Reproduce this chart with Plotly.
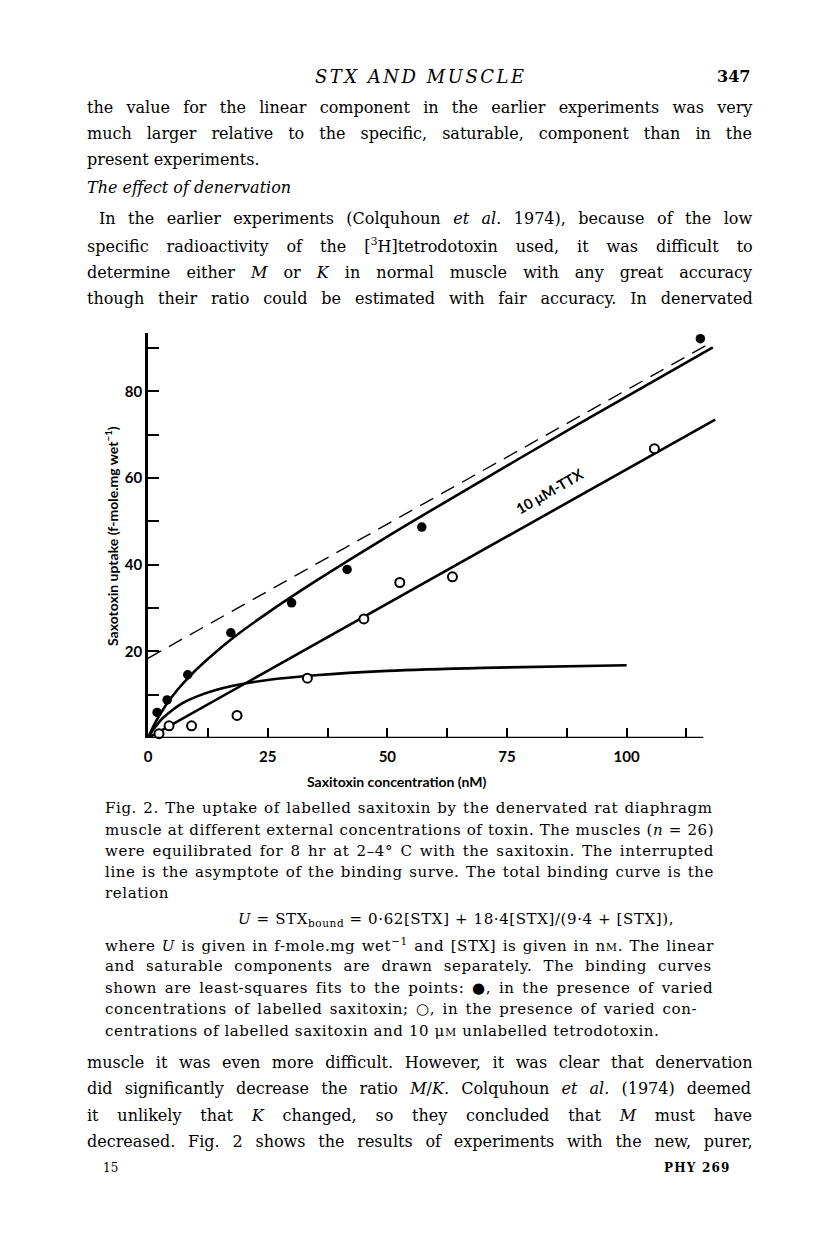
import plotly.graph_objects as go

# filled circles: labelled saxitoxin alone
filled_x = [1.9, 4.0, 8.3, 17.3, 30.0, 41.6, 57.2, 115.4]
filled_y = [5.9, 8.8, 14.6, 24.3, 31.2, 38.9, 48.7, 92.2]

# open circles: with 10 uM unlabelled TTX
open_x = [2.3, 4.4, 9.1, 18.6, 33.3, 45.1, 52.6, 63.6, 105.8]
open_y = [1.0, 2.8, 2.8, 5.2, 13.8, 27.5, 35.9, 37.2, 66.8]

# fitted curves
total_x = [0, 1, 2, 3, 4, 6, 8, 10, 14, 18, 25, 35, 50, 70, 90, 118]
total_y = [0, 2.4, 4.5, 6.3, 8.0, 10.9, 13.4, 15.7, 19.7, 23.3, 28.9, 36.2, 46.5, 59.6, 72.5, 90.2]

sat_x = [0, 1, 2, 3, 4, 6, 8, 10, 14, 18, 25, 35, 50, 70, 100]
sat_y = [0, 1.8, 3.2, 4.5, 5.5, 7.2, 8.5, 9.5, 11.0, 12.1, 13.4, 14.5, 15.5, 16.2, 16.8]

linear_x = [0, 118.5]
linear_y = [0, 73.5]

asym_x = [0, 117.5]
asym_y = [18.4, 91.2]

x_ticks = [0, 25, 50, 75, 100]
x_minor = [12.5, 37.5, 62.5, 87.5, 112.5]
y_ticks = [20, 40, 60, 80]
y_minor = [10, 30, 50, 70, 90]

# plot area in page pixels (the html body adds an 8px margin)
L, T, W, H = 148, 333, 572, 405
BODY = 8
FIG_W, FIG_H = 816, 1238


def px(x, y):
    return (x - L) / W, (T + H - y) / H


SERIF = "DejaVu Serif"
SANS = "Lato"

fig = go.Figure()

line_style = dict(color="black", width=2.6)
fig.add_trace(go.Scatter(x=asym_x, y=asym_y, mode="lines",
                         line=dict(color="black", width=1.4, dash="15px,9px")))
fig.add_trace(go.Scatter(x=linear_x, y=linear_y, mode="lines", line=line_style))
fig.add_trace(go.Scatter(x=sat_x, y=sat_y, mode="lines", line=line_style, line_shape="spline"))
fig.add_trace(go.Scatter(x=total_x, y=total_y, mode="lines", line=line_style, line_shape="spline"))
fig.add_trace(go.Scatter(x=open_x, y=open_y, mode="markers", cliponaxis=False,
                         marker=dict(symbol="circle", size=9, color="white",
                                     line=dict(color="black", width=2))))
fig.add_trace(go.Scatter(x=filled_x, y=filled_y, mode="markers", cliponaxis=False,
                         marker=dict(symbol="circle", size=9.5, color="black",
                                     line=dict(color="black", width=0))))

fig.update_layout(
    width=FIG_W, height=FIG_H,
    margin=dict(l=L - BODY, r=FIG_W - L - W + BODY, t=T - BODY, b=FIG_H - T - H + BODY, pad=0),
    paper_bgcolor="white", plot_bgcolor="white",
    showlegend=False,
    xaxis=dict(range=[0, 119.5], showline=False, showgrid=False, zeroline=False,
               tickvals=x_ticks, ticks="inside", ticklen=10, tickwidth=2, tickcolor="black",
               minor=dict(tickvals=x_minor, ticks="inside", ticklen=10, tickwidth=2, tickcolor="black"),
               tickfont=dict(family=SANS, size=15, color="black", weight="bold"),
               ticklabelstandoff=8),
    yaxis=dict(range=[0, 93.5], showline=True, linecolor="black", linewidth=2.5,
               showgrid=False, zeroline=False,
               tickvals=y_ticks, ticks="inside", ticklen=11, tickwidth=2, tickcolor="black",
               minor=dict(tickvals=y_minor, ticks="inside", ticklen=11, tickwidth=2, tickcolor="black"),
               tickfont=dict(family=SANS, size=15, color="black", weight="bold")),
)

# x axis line stops short of the curves, as in the print
fig.add_shape(type="line", xref="x", yref="y", x0=0, x1=116, y0=0, y1=0,
              line=dict(color="black", width=2.5))

annotations = []


def add_text(x, y, text, size, family=SERIF, xanchor="left", angle=0, weight="normal",
             spacing=None, letters=None):
    ax, ay = px(x, y)
    style = []
    if spacing:
        style.append("word-spacing:%.1fpx" % spacing)
    if letters:
        style.append("letter-spacing:%.1fpx" % letters)
    if style:
        text = "<span style='%s'>%s</span>" % (";".join(style), text)
    annotations.append(dict(x=ax, y=ay, xref="paper", yref="paper", text=text,
                            showarrow=False, xanchor=xanchor, yanchor="middle",
                            textangle=angle,
                            font=dict(family=family, size=size, color="black", weight=weight)))


# chart labels
add_text(397, 781, "Saxitoxin concentration (nM)", 14, SANS, "center", weight="bold")
add_text(111, 536, "Saxotoxin uptake (f-mole.mg wet<sup>−1</sup>)", 14, SANS, "center", -90, weight="bold")
add_text(549, 491, "10 μM-TTX", 14.5, SANS, "center", -30, weight="bold")

# running head
add_text(421, 77, "<i>STX AND MUSCLE</i>", 18, xanchor="center", letters=2.5)
add_text(752, 77, "347", 16, xanchor="right", weight="bold")

# (x, y, text, extra word spacing to justify the line)
body_top = [
    (85, 107, "the value for the linear component in the earlier experiments was very", 8.2),
    (85, 133, "much larger relative to the specific, saturable, component than in the", 9.9),
    (85, 159, "present experiments.", None),
    (85, 188, "<i>The effect of denervation</i>", None),
    (97, 218, "In the earlier experiments (Colquhoun <i>et al.</i> 1974), because of the low", 7.4),
    (85, 245, "specific radioactivity of the [<sup>3</sup>H]tetrodotoxin used, it was difficult to", 12.9),
    (85, 272, "determine either <i>M</i> or <i>K</i> in normal muscle with any great accuracy", 11.0),
    (85, 298, "though their ratio could be estimated with fair accuracy. In denervated", 8.8),
]
for x, y, t, s in body_top:
    add_text(x, y, t, 16, spacing=s)

small_m = "<span style='font-size:11px'>M</span>"
caption = [
    (103, 808, "Fig. 2. The uptake of labelled saxitoxin by the denervated rat diaphragm", 1.0),
    (103, 830, "muscle at different external concentrations of toxin. The muscles (<i>n</i> = 26)", 0.1),
    (103, 851, "were equilibrated for 8 hr at 2–4° C with the saxitoxin. The interrupted", 1.9),
    (103, 872, "line is the asymptote of the binding surve. The total binding curve is the", 1.1),
    (103, 893, "relation", None),
    (103, 945, "where <i>U</i> is given in f-mole.mg wet<sup>−1</sup> and [STX] is given in n" + small_m + ". The linear", 1.0),
    (103, 966, "and saturable components are drawn separately. The binding curves", 5.7),
    (103, 988, "shown are least-squares fits to the points: ●, in the presence of varied", 2.4),
    (103, 1009, "concentrations of labelled saxitoxin; ○, in the presence of varied con-", 2.0),
    (103, 1031, "centrations of labelled saxitoxin and 10 μ" + small_m + " unlabelled tetrodotoxin.", None),
]
for x, y, t, s in caption:
    add_text(x, y, t, 15, spacing=s, letters=0.6)
add_text(456, 919, "<i>U</i> = STX<sub>bound</sub> = 0·62[STX] + 18·4[STX]/(9·4 + [STX]),", 15,
         xanchor="center", letters=0.6)

body_bottom = [
    (85, 1062, "muscle it was even more difficult. However, it was clear that denervation", 6.5),
    (85, 1088, "did significantly decrease the ratio <i>M</i>/<i>K</i>. Colquhoun <i>et al.</i> (1974) deemed", 7.1),
    (85, 1115, "it unlikely that <i>K</i> changed, so they concluded that <i>M</i> must have", 13.7),
    (85, 1141, "decreased. Fig. 2 shows the results of experiments with the new, purer,", 7.7),
]
for x, y, t, s in body_bottom:
    add_text(x, y, t, 16, spacing=s)

add_text(101, 1168, "15", 12)
add_text(733, 1168, "PHY 269", 12, xanchor="right", weight="bold", letters=1.2)

fig.update_layout(annotations=annotations)
fig.write_html("out.html")
